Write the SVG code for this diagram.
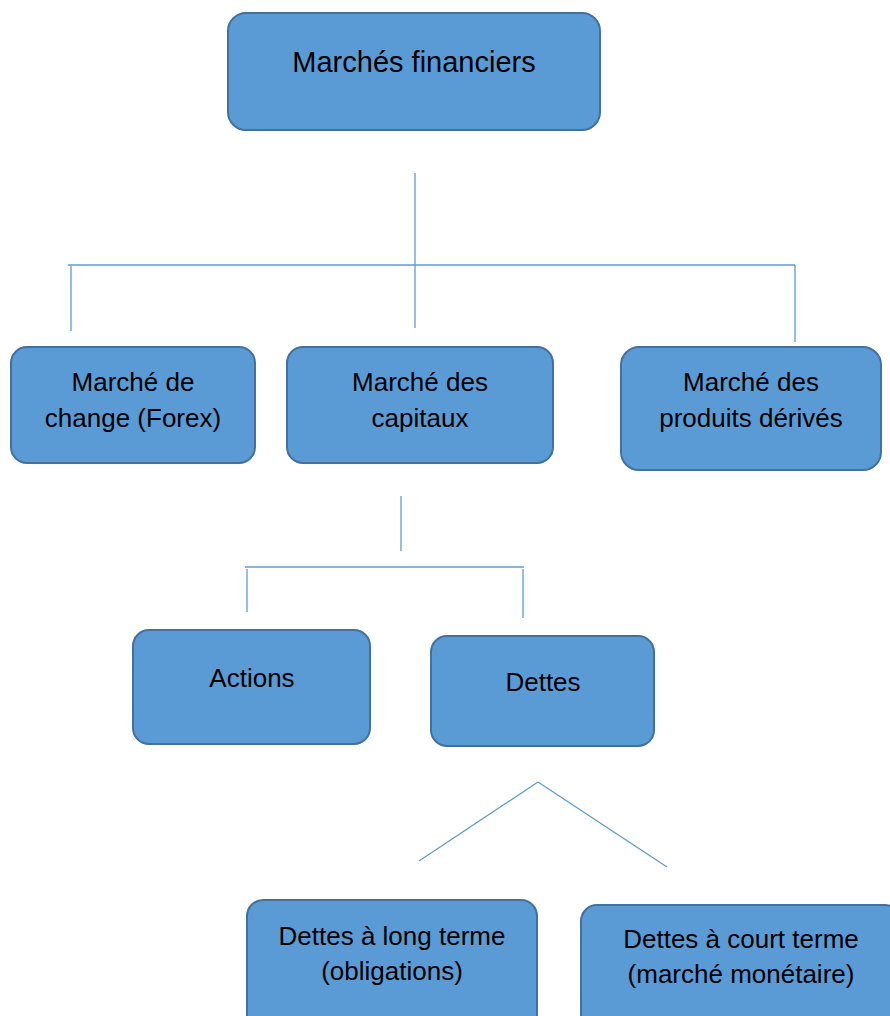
<svg xmlns="http://www.w3.org/2000/svg" width="890" height="1016" viewBox="0 0 890 1016">
<style>
.box{fill:#5B9BD5;stroke:#41719C;stroke-width:2}
.t{font-family:"Liberation Sans",Arial,sans-serif;font-size:26px;fill:#000;text-anchor:middle}
.big{font-size:29px}
.ln{stroke:#5B9BD5;stroke-width:1.3;fill:none}
</style>
<rect width="890" height="1016" fill="#fff"/>
<g id="connectors">
<line class="ln" x1="415" y1="173" x2="415" y2="328"/>
<line class="ln" x1="68" y1="265" x2="795" y2="265"/>
<line class="ln" x1="71" y1="266" x2="71" y2="331"/>
<line class="ln" x1="795" y1="265" x2="795" y2="342"/>
<line class="ln" x1="401" y1="496" x2="401" y2="551"/>
<line class="ln" x1="245" y1="567" x2="524" y2="567"/>
<line class="ln" x1="247" y1="569" x2="247" y2="612"/>
<line class="ln" x1="523" y1="569" x2="523" y2="618"/>
<line class="ln" x1="538" y1="782" x2="419" y2="861"/>
<line class="ln" x1="538" y1="782" x2="667" y2="867"/>
</g>
<g id="root">
<rect class="box" x="228" y="13" width="372" height="117" rx="18"/>
<text class="t big" x="414" y="72">Marchés financiers</text>
</g>
<g id="forex">
<rect class="box" x="11" y="347" width="244" height="116" rx="16"/>
<text class="t" x="133" y="391">Marché de</text>
<text class="t" x="133" y="427">change (Forex)</text>
</g>
<g id="capitaux">
<rect class="box" x="287" y="347" width="266" height="116" rx="16"/>
<text class="t" x="420" y="391">Marché des</text>
<text class="t" x="420" y="427">capitaux</text>
</g>
<g id="derives">
<rect class="box" x="621" y="347" width="260" height="123" rx="18"/>
<text class="t" x="751" y="391">Marché des</text>
<text class="t" x="751" y="427">produits dérivés</text>
</g>
<g id="actions">
<rect class="box" x="133" y="630" width="237" height="114" rx="16"/>
<text class="t" x="252" y="687">Actions</text>
</g>
<g id="dettes">
<rect class="box" x="431" y="636" width="223" height="110" rx="16"/>
<text class="t" x="543" y="691">Dettes</text>
</g>
<g id="long">
<rect class="box" x="247" y="900" width="290" height="130" rx="16"/>
<text class="t" x="392" y="945">Dettes à long terme</text>
<text class="t" x="392" y="980">(obligations)</text>
</g>
<g id="court">
<rect class="box" x="581" y="905" width="320" height="125" rx="16"/>
<text class="t" x="741" y="948">Dettes à court terme</text>
<text class="t" x="741" y="983">(marché monétaire)</text>
</g>
</svg>
